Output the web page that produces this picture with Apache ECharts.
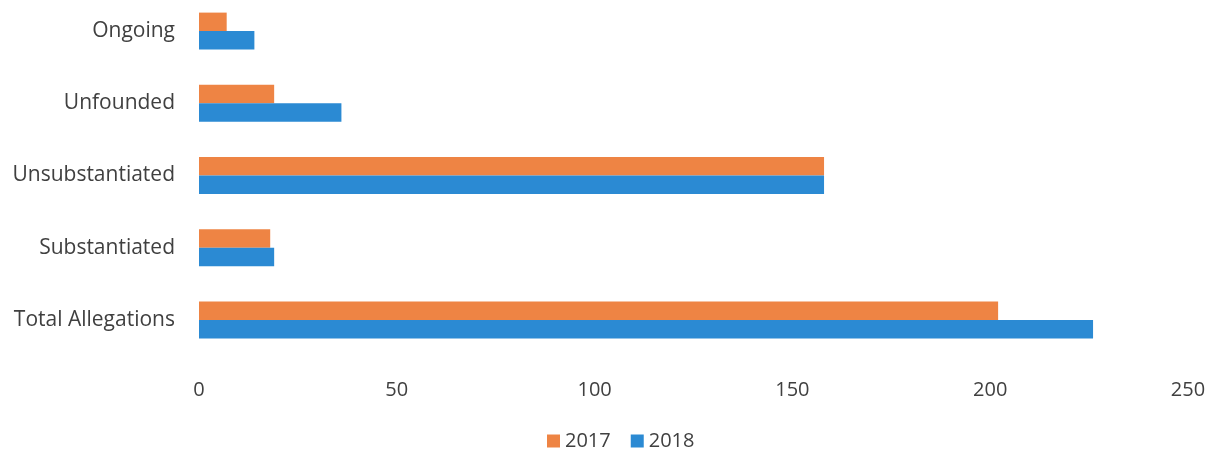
<!DOCTYPE html>
<html>
<head>
<meta charset="utf-8">
<script src="https://cdn.jsdelivr.net/npm/echarts@6/dist/echarts.min.js"></script>
<style>
html,body{margin:0;padding:0;background:#fff;}
#chart{width:1215px;height:450px;}
</style>
</head>
<body>
<div id="chart"></div>
<script>
const categories = ["Total Allegations", "Substantiated", "Unsubstantiated", "Unfounded", "Ongoing"];
const values2017 = [202, 18, 158, 19, 7];
const values2018 = [226, 19, 158, 36, 14];
const xTicks = { min: 0, max: 250, interval: 50 };

const chart = echarts.init(document.getElementById('chart'));
const font = '"Open Sans", "Noto Sans", sans-serif';
chart.setOption({
  animation: false,
  textStyle: { fontFamily: font },
  grid: { left: 199, right: 27, top: -5, height: 361, containLabel: false, outerBoundsMode: 'none' },
  legend: {
    top: 426,
    left: 542,
    itemWidth: 13,
    itemHeight: 13,
    itemGap: 20,
    icon: 'rect',
    textStyle: { fontSize: 20, color: '#404040', fontFamily: font },
    data: ['2017', '2018']
  },
  xAxis: {
    type: 'value',
    min: xTicks.min, max: xTicks.max, interval: xTicks.interval,
    axisLine: { show: false },
    axisTick: { show: false },
    splitLine: { show: false },
    axisLabel: { fontSize: 20, color: '#404040', margin: 24, fontFamily: font }
  },
  yAxis: {
    type: 'category',
    data: categories,
    axisLine: { show: false },
    axisTick: { show: false },
    axisLabel: { fontSize: 21, color: '#404040', margin: 24, fontFamily: font }
  },
  series: [
    { name: '2017', type: 'bar', data: values2017, barWidth: 18.5, barGap: '0%',
      itemStyle: { color: '#EE8444' } },
    { name: '2018', type: 'bar', data: values2018, barWidth: 18.5, barGap: '0%',
      itemStyle: { color: '#2B8AD3' } }
  ]
});
</script>
</body>
</html>
